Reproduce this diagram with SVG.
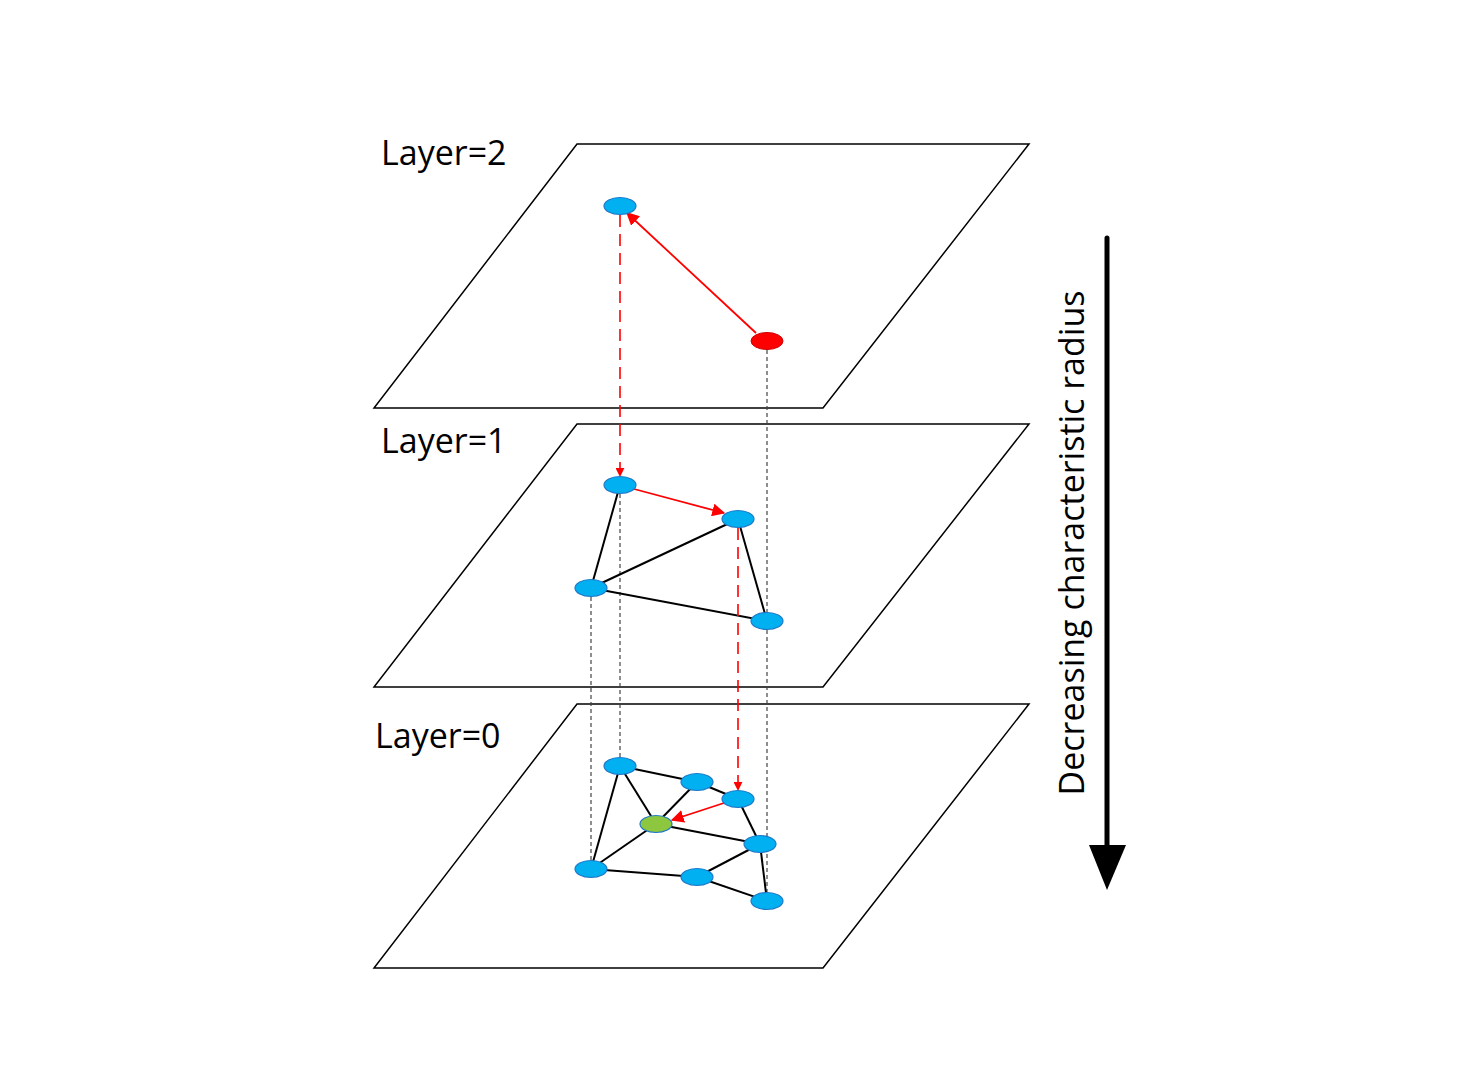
<svg xmlns="http://www.w3.org/2000/svg" width="1469" height="1086" viewBox="0 0 1469 1086">
<style>
.plane{fill:#fff;stroke:#000;stroke-width:1.5}
.lbl{font-family:"Open Sans","Liberation Sans",sans-serif;font-size:34px;fill:#000}
.n{fill:#00b0f0;stroke:#1f78c8;stroke-width:1.2}
.e{stroke:#000;stroke-width:2;fill:none}
.gd{stroke:#444;stroke-width:1.2;stroke-dasharray:4 3;fill:none}
.rd{stroke:#f00;stroke-width:1.6;stroke-dasharray:12 7;fill:none}
.ra{stroke:#f00;stroke-width:1.8;fill:none}
</style>
<defs>
<marker id="ah" viewBox="0 0 10 10" refX="9" refY="5" markerWidth="9" markerHeight="9" orient="auto" markerUnits="userSpaceOnUse" >
<path d="M0,0 L10,5 L0,10 z" fill="#f00"/>
</marker>
<marker id="ahb" viewBox="0 0 10 10" refX="9" refY="5" markerWidth="13" markerHeight="13" orient="auto" markerUnits="userSpaceOnUse">
<path d="M0,0 L10,5 L0,10 z" fill="#f00"/>
</marker>
</defs>
<rect width="1469" height="1086" fill="#fff"/>
<g id="planes">
<polygon class="plane" points="577,704 1029,704 823,968 374,968"/>
<polygon class="plane" points="577,424 1029,424 823,687 374,687"/>
<polygon class="plane" points="577,144 1029,144 823,408 374,408"/>
</g>
<g id="labels">
<text class="lbl" x="381" y="165">Layer=2</text>
<text class="lbl" x="381" y="453">Layer=1</text>
<text class="lbl" x="375" y="748">Layer=0</text>
</g>
<g id="connectors">
<line class="gd" x1="767" y1="350" x2="767" y2="892"/>
<line class="gd" x1="620" y1="494" x2="620" y2="757"/>
<line class="gd" x1="591" y1="597" x2="591" y2="860"/>
<line class="e" x1="620" y1="485" x2="591" y2="588"/>
<line class="e" x1="591" y1="588" x2="738" y2="519"/>
<line class="e" x1="591" y1="588" x2="767" y2="621"/>
<line class="e" x1="738" y1="519" x2="767" y2="621"/>
<line class="e" x1="620" y1="766" x2="697" y2="782"/>
<line class="e" x1="697" y1="782" x2="738" y2="799"/>
<line class="e" x1="620" y1="766" x2="591" y2="869"/>
<line class="e" x1="620" y1="766" x2="656" y2="824"/>
<line class="e" x1="697" y1="782" x2="656" y2="824"/>
<line class="e" x1="656" y1="824" x2="760" y2="844"/>
<line class="e" x1="738" y1="799" x2="760" y2="844"/>
<line class="e" x1="591" y1="869" x2="656" y2="824"/>
<line class="e" x1="591" y1="869" x2="697" y2="877"/>
<line class="e" x1="697" y1="877" x2="760" y2="844"/>
<line class="e" x1="697" y1="877" x2="767" y2="901"/>
<line class="e" x1="760" y1="844" x2="767" y2="901"/>
<line class="rd" x1="620" y1="215" x2="620" y2="476" marker-end="url(#ah)"/>
<line class="rd" x1="738" y1="528" x2="738" y2="790" marker-end="url(#ah)"/>
<line class="ra" x1="756" y1="333" x2="627" y2="213" marker-end="url(#ahb)"/>
<line class="ra" x1="634" y1="489" x2="724" y2="513" marker-end="url(#ahb)"/>
<line class="ra" x1="724" y1="803" x2="672" y2="820" marker-end="url(#ahb)"/>
</g>
<g id="nodes">
<ellipse class="n" cx="620" cy="206" rx="16" ry="8.5"/>
<ellipse cx="767" cy="341" rx="16" ry="8.5" fill="#f00" stroke="#c00"/>
<ellipse class="n" cx="620" cy="485" rx="16" ry="8.5"/>
<ellipse class="n" cx="738" cy="519" rx="16" ry="8.5"/>
<ellipse class="n" cx="591" cy="588" rx="16" ry="8.5"/>
<ellipse class="n" cx="767" cy="621" rx="16" ry="8.5"/>
<ellipse class="n" cx="620" cy="766" rx="16" ry="8.5"/>
<ellipse class="n" cx="697" cy="782" rx="16" ry="8.5"/>
<ellipse class="n" cx="738" cy="799" rx="16" ry="8.5"/>
<ellipse cx="656" cy="824" rx="16" ry="8.5" fill="#8dc63f" stroke="#1f78c8" stroke-width="1.2"/>
<ellipse class="n" cx="760" cy="844" rx="16" ry="8.5"/>
<ellipse class="n" cx="591" cy="869" rx="16" ry="8.5"/>
<ellipse class="n" cx="697" cy="877" rx="16" ry="8.5"/>
<ellipse class="n" cx="767" cy="901" rx="16" ry="8.5"/>
</g>
<g id="axis">
<line x1="1107" y1="238" x2="1107" y2="850" stroke="#000" stroke-width="5" stroke-linecap="round"/>
<polygon points="1089,845 1126,845 1107,890" fill="#000"/>
<text class="lbl" transform="translate(1084,543) rotate(-90)" text-anchor="middle" font-size="33">Decreasing characteristic radius</text>
</g>
</svg>
